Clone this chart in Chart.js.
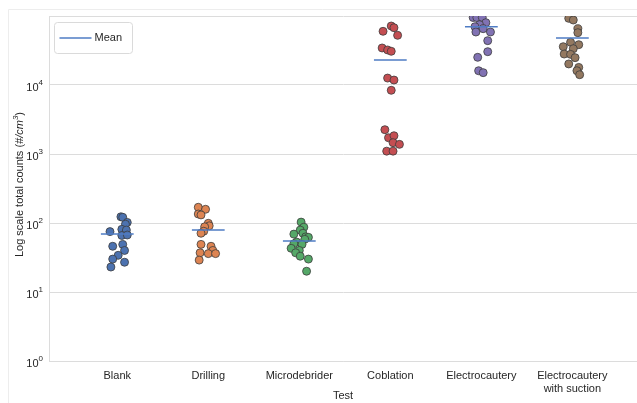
<!DOCTYPE html>
<html>
<head>
<meta charset="utf-8">
<script src="https://cdn.jsdelivr.net/npm/chart.js@4/dist/chart.umd.min.js"></script>
<style>
  html, body { margin: 0; padding: 0; background: #fff; }
  canvas { display: block; }
</style>
</head>
<body>
<canvas id="chart" width="637" height="403"></canvas>
<script>
// categories along x, one strip of points per test
const categories = ["Blank", "Drilling", "Microdebrider", "Coblation", "Electrocautery", "Electrocautery\nwith suction"];
const yTickValues = [1, 10, 100, 1000, 10000, 100000];

// counts (#/cm3), with the horizontal jitter of each dot
const blankCounts = [123, 121, 102, 96, 75, 81, 79, 66, 67, 46, 49, 40, 34, 30, 27, 23];
const blankJitter = [0.04, 0.06, 0.11, 0.09, -0.08, 0.05, 0.10, 0.05, 0.11, -0.05, 0.06, 0.08, 0.01, -0.05, 0.08, -0.07];
const drillingCounts = [169, 158, 135, 131, 99, 91, 88, 76, 71, 49, 46, 40, 37, 36, 36, 29];
const drillingJitter = [-0.11, -0.03, -0.11, -0.08, 0.00, 0.01, -0.04, -0.05, -0.08, -0.08, 0.03, 0.05, -0.09, 0.00, 0.08, -0.10];
const microdebriderCounts = [103, 87, 79, 71, 69, 63, 62, 58, 53, 50, 49, 43, 40, 37, 33, 30, 20];
const microdebriderJitter = [0.02, 0.05, 0.01, 0.04, -0.06, 0.07, 0.10, 0.06, -0.03, -0.06, 0.03, -0.09, 0.00, -0.04, 0.01, 0.10, 0.08];
const coblationCounts = [71600, 67700, 60000, 52500, 34400, 32200, 30800, 12600, 11800, 8380, 2250, 1720, 1840, 1460, 1380, 1100, 1100];
const coblationJitter = [0.01, 0.04, -0.08, 0.08, -0.09, -0.03, 0.01, -0.03, 0.04, 0.01, -0.06, -0.02, 0.04, 0.03, 0.10, -0.04, 0.03];
const electrocauteryCounts = [95000, 95000, 95000, 80000, 74800, 70000, 65500, 58600, 58600, 43900, 30400, 25200, 16100, 15100];
const electrocauteryJitter = [-0.09, -0.05, 0.01, 0.05, -0.02, -0.07, 0.02, -0.06, 0.10, 0.07, 0.07, -0.04, -0.03, 0.02];
const suctionCounts = [92500, 87500, 65500, 57300, 41600, 38400, 35900, 33600, 28100, 27800, 24900, 20200, 18000, 16100, 14100];
const suctionJitter = [-0.04, 0.01, 0.06, 0.06, -0.02, 0.07, -0.10, 0.01, -0.09, -0.02, 0.03, -0.04, 0.07, 0.05, 0.08];

const means = [69, 79, 55, 23000, 70000, 48000];

const colors = ["#4c72b0", "#dd8452", "#55a868", "#c44e52", "#8172b3", "#937860"];
const meanColor = "#4f7cc4";
const gridColor = "#dcdcdc";
const textColor = "#262626";
const fontFamily = "'Liberation Sans', Arial, sans-serif";

const strips = [
  [blankCounts, blankJitter],
  [drillingCounts, drillingJitter],
  [microdebriderCounts, microdebriderJitter],
  [coblationCounts, coblationJitter],
  [electrocauteryCounts, electrocauteryJitter],
  [suctionCounts, suctionJitter],
];

const stripDatasets = strips.map(([counts, jitter], i) => ({
  type: "scatter",
  label: categories[i],
  data: counts.map((v, k) => ({ x: i + jitter[k], y: v })),
  backgroundColor: colors[i],
  borderColor: "#3c3c3c",
  borderWidth: 0.8,
  pointRadius: 4,
  pointHoverRadius: 4,
  order: 1,
}));

const meanData = [];
means.forEach((m, i) => {
  meanData.push({ x: i - 0.18, y: m }, { x: i + 0.18, y: m }, { x: i + 0.5, y: null });
});

const framePlugin = {
  id: "frame",
  beforeDraw(chart) {
    const c = chart.ctx;
    c.save();
    c.strokeStyle = "#ededed";
    c.lineWidth = 1;
    c.beginPath();
    c.moveTo(8.5, 403);
    c.lineTo(8.5, 9.5);
    c.lineTo(637, 9.5);
    c.stroke();
    c.restore();
  },
  afterDraw(chart) {
    const c = chart.ctx;
    const area = chart.chartArea;
    const y = chart.scales.y;
    c.save();
    c.fillStyle = textColor;

    // y tick labels as 10 with a raised exponent
    yTickValues.slice(0, -1).forEach((v) => {
      const py = y.getPixelForValue(v);
      const exp = String(Math.round(Math.log10(v)));
      c.font = "8px " + fontFamily;
      const ew = c.measureText(exp).width;
      c.textAlign = "left";
      c.textBaseline = "middle";
      c.fillText(exp, area.left - 6 - ew, py - 2);
      c.font = "11px " + fontFamily;
      c.textAlign = "right";
      c.fillText("10", area.left - 6 - ew, py + 3);
    });

    // y axis title with italic unit
    c.translate(20, (area.top + area.bottom) / 2 - 4);
    c.rotate(-Math.PI / 2);
    const parts = [
      ["Log scale total counts (", "11px " + fontFamily, 0],
      ["#/cm", "italic 11px " + fontFamily, 0],
      ["3", "italic 8px " + fontFamily, -4],
      [")", "11px " + fontFamily, 0],
    ];
    let total = 0;
    parts.forEach(([t, f]) => { c.font = f; total += c.measureText(t).width; });
    let x = -total / 2;
    c.textAlign = "left";
    c.textBaseline = "middle";
    parts.forEach(([t, f, dy]) => {
      c.font = f;
      c.fillText(t, x, dy);
      x += c.measureText(t).width;
    });
    c.restore();

    // legend box
    c.save();
    const lx = area.left + 5.5, ly = area.top + 6.5, lw = 78, lh = 31;
    c.fillStyle = "#fff";
    c.strokeStyle = "#dadada";
    c.lineWidth = 1;
    c.beginPath();
    c.roundRect(lx, ly, lw, lh, 3);
    c.fill();
    c.stroke();
    c.strokeStyle = meanColor;
    c.lineWidth = 1.5;
    c.beginPath();
    c.moveTo(lx + 5, ly + 15.5);
    c.lineTo(lx + 37, ly + 15.5);
    c.stroke();
    c.fillStyle = textColor;
    c.font = "11px " + fontFamily;
    c.textAlign = "left";
    c.textBaseline = "middle";
    c.fillText("Mean", lx + 40, ly + 15.5);
    c.restore();
  },
};

new Chart(document.getElementById("chart"), {
  data: {
    datasets: [
      {
        type: "line",
        label: "Mean",
        data: meanData,
        borderColor: meanColor,
        borderWidth: 1.5,
        pointRadius: 0,
        spanGaps: false,
        order: 0,
      },
      ...stripDatasets,
    ],
  },
  options: {
    responsive: false,
    animation: false,
    layout: { autoPadding: false, padding: { top: 16, left: 0, right: 0, bottom: 0 } },
    scales: {
      x: {
        type: "linear",
        min: -0.75,
        max: 5.71,
        afterBuildTicks: (scale) => {
          scale.ticks = categories.map((_, i) => ({ value: i }));
        },
        afterFit: (scale) => { scale.height = 42; },
        grid: { display: false, drawTicks: false },
        border: { display: true, color: gridColor, width: 1 },
        ticks: {
          autoSkip: false,
          maxRotation: 0,
          padding: 8,
          color: textColor,
          font: { family: fontFamily, size: 11 },
          callback: (v) => (categories[v] !== undefined ? categories[v].split("\n") : ""),
        },
        title: {
          display: true,
          text: "Test",
          color: textColor,
          font: { family: fontFamily, size: 11 },
          padding: { top: 0, bottom: 0 },
        },
      },
      y: {
        type: "logarithmic",
        min: 1,
        max: 100000,
        afterBuildTicks: (scale) => {
          scale.ticks = yTickValues.map((v) => ({ value: v }));
        },
        afterFit: (scale) => { scale.width = 49; },
        grid: { color: gridColor, drawTicks: false },
        border: { display: true, color: gridColor, width: 1 },
        ticks: { display: false },
      },
    },
    plugins: {
      legend: { display: false },
      tooltip: { enabled: false },
    },
  },
  plugins: [framePlugin],
});
</script>
</body>
</html>
